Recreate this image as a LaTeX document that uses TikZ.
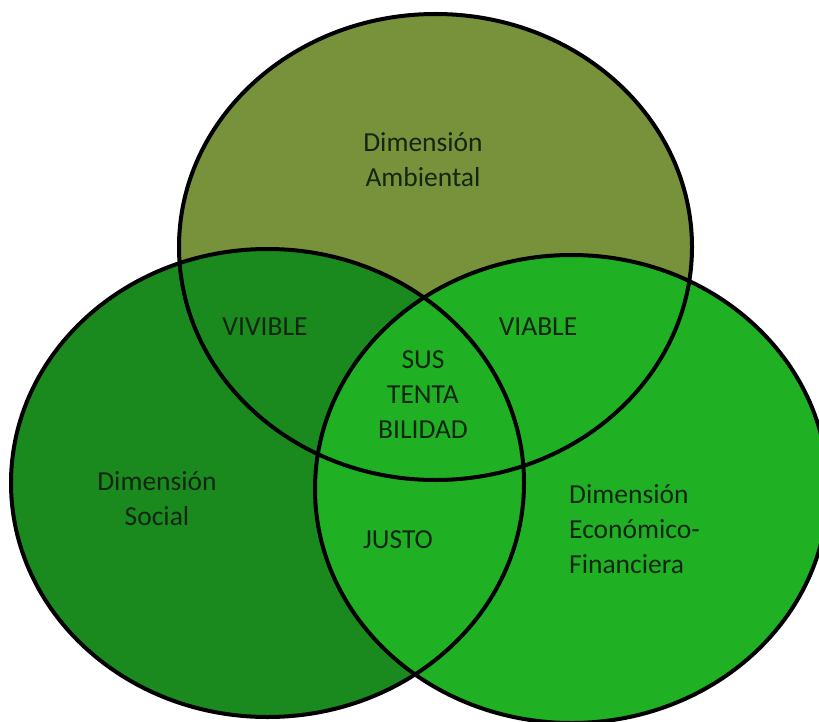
\documentclass[tikz,border=0pt]{standalone}
\usepackage{fontspec}
\setmainfont{Carlito}
\definecolor{olivec}{RGB}{119,146,59}
\definecolor{socialc}{RGB}{26,138,30}
\definecolor{econc}{RGB}{32,176,36}
\definecolor{txtc}{RGB}{18,38,18}
\tikzset{
  venn/.style={draw=black, line width=4pt},
  lbl/.style={text=txtc, font=\fontsize{27.5}{35}\selectfont, align=center, inner sep=0pt},
}
\begin{document}
\begin{tikzpicture}[x=1pt,y=-1pt]
\useasboundingbox (0,0) rectangle (819,722);
\fill[white] (0,0) rectangle (819,722);
% fills
\fill[olivec] (435.5,247) ellipse [x radius=256.5, y radius=233];
\fill[socialc] (267.5,483) ellipse [x radius=256.5, y radius=234];
\fill[econc] (571.5,489) ellipse [x radius=256.5, y radius=234];
% outlines
\draw[venn] (435.5,247) ellipse [x radius=256.5, y radius=233];
\draw[venn] (267.5,483) ellipse [x radius=256.5, y radius=234];
\draw[venn] (571.5,489) ellipse [x radius=256.5, y radius=234];
% labels
\node[lbl] (amb) at (423,160) {Dimensión\\Ambiental};
\node[lbl] (viv) at (265,327) {VIVIBLE};
\node[lbl] (via) at (538,327) {VIABLE};
\node[lbl] (sus) at (423,395) {SUS\\TENTA\\BILIDAD};
\node[lbl] (soc) at (157,499) {Dimensión\\Social};
\node[lbl] (jus) at (398,540) {JUSTO};
\node[lbl, align=left, anchor=west] (eco) at (569,529) {Dimensión\\Económico-\\Financiera};
\end{tikzpicture}
\end{document}
